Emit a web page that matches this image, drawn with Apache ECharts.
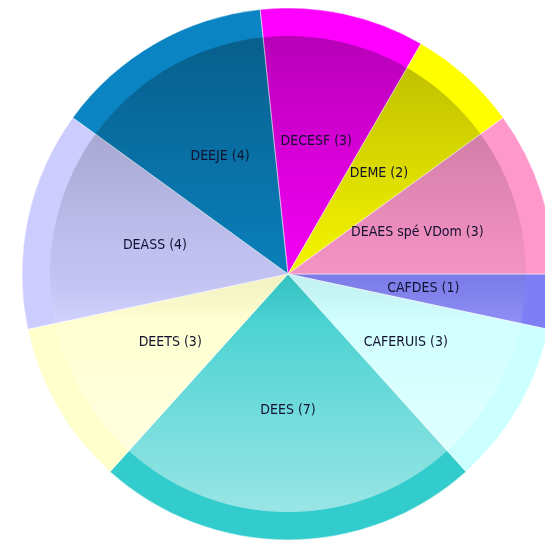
<!DOCTYPE html>
<html>
<head>
<meta charset="utf-8">
<script src="https://cdn.jsdelivr.net/npm/echarts@6/dist/echarts.min.js"></script>
<style>
  html, body { margin: 0; padding: 0; background: #fff; }
  #chart { width: 545px; height: 544px; }
</style>
</head>
<body>
<div id="chart"></div>
<script>
// clockwise from 3 o'clock
var categories = ['CAFDES', 'CAFERUIS', 'DEES', 'DEETS', 'DEASS', 'DEEJE', 'DECESF', 'DEME', 'DEAES spé VDom'];
var counts = [1, 3, 7, 3, 4, 4, 3, 2, 3];
var colors = ['#7f7ff5', '#ccffff', '#33cccc', '#ffffcc', '#ccccff', '#0a84c2', '#ff00ff', '#ffff00', '#ff99cc'];

var chartDom = document.getElementById('chart');
var myChart = echarts.init(chartDom);

var center = [288, 274];

var baseData = categories.map(function (name, i) {
    return { name: name, value: counts[i], itemStyle: { color: colors[i] } };
});

var option = {
    animation: false,
    series: [
        {
            // outer bevel ring uses the plain colours
            type: 'pie',
            center: center,
            radius: [0, 266],
            startAngle: 0,
            clockwise: true,
            silent: true,
            z: 1,
            label: { show: false },
            labelLine: { show: false },
            itemStyle: { borderColor: 'rgba(255,255,255,0.5)', borderWidth: 0.6 },
            data: baseData
        },
        {
            // shading over the inner disc
            type: 'pie',
            center: center,
            radius: [0, 238],
            silent: true,
            z: 2,
            label: { show: false },
            labelLine: { show: false },
            data: [{
                value: 1,
                itemStyle: {
                    color: new echarts.graphic.LinearGradient(0, 0, 0, 1, [
                        { offset: 0, color: 'rgba(0,0,0,0.28)' },
                        { offset: 0.45, color: 'rgba(0,0,0,0.06)' },
                        { offset: 0.6, color: 'rgba(255,255,255,0.12)' },
                        { offset: 1, color: 'rgba(255,255,255,0.5)' }
                    ])
                }
            }]
        },
        {
            // labels
            type: 'pie',
            center: center,
            radius: [0, 266],
            startAngle: 0,
            clockwise: true,
            silent: true,
            z: 3,
            itemStyle: { color: 'rgba(0,0,0,0)', borderColor: 'rgba(255,255,255,0.35)', borderWidth: 0.6 },
            label: {
                show: true,
                position: 'inside',
                formatter: function (p) { return p.name + ' (' + p.value + ')'; },
                fontFamily: "'DejaVu Sans Condensed', 'DejaVu Sans', sans-serif",
                fontSize: 14,
                color: '#121230'
            },
            labelLine: { show: false },
            data: categories.map(function (name, i) {
                return { name: name, value: counts[i] };
            })
        }
    ]
};

myChart.setOption(option);
</script>
</body>
</html>
